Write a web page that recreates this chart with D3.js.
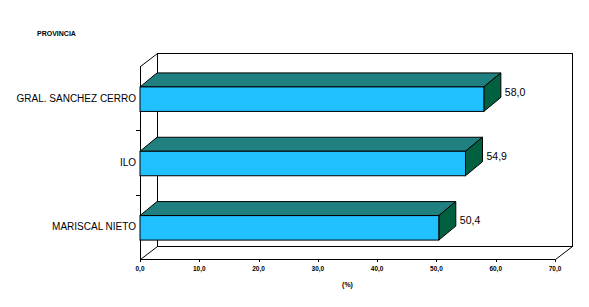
<!DOCTYPE html>
<html>
<head>
<meta charset="utf-8">
<script src="https://cdn.jsdelivr.net/npm/d3@7"></script>
<style>
  body { margin: 0; background: #fff; }
  text { font-family: Arial, "Liberation Sans", sans-serif; }
</style>
</head>
<body>
<div id="chart"></div>
<script>
// data
var categories = ['GRAL. SANCHEZ CERRO', 'ILO', 'MARISCAL NIETO'];
var values = [58.0, 54.9, 50.4];
var xTicks = [0, 10, 20, 30, 40, 50, 60, 70];

var W = 589, H = 307;
// depth offset of the 3d box
var ddx = 17, ddy = -13;

var svg = d3.select('#chart').append('svg')
  .attr('width', W).attr('height', H);

var x = d3.scaleLinear().domain([0, 70]).range([140, 555]);
var y = d3.scaleBand().domain(categories).range([66, 259]).padding(0);

var x0 = x(0), x1 = x(70), yTop = 66, yBot = 259;
var fmt = function (v) { return d3.format('.1f')(v).replace('.', ','); };

// back walls
var g = svg.append('g').attr('fill', 'none').attr('stroke', '#000').attr('stroke-width', 1);
g.append('rect')
  .attr('x', x0 + ddx + 0.5).attr('y', yTop + ddy + 0.5)
  .attr('width', x1 - x0).attr('height', yBot - yTop);
g.append('line')
  .attr('x1', x0 + 0.5).attr('y1', yTop + 0.5)
  .attr('x2', x0 + ddx + 0.5).attr('y2', yTop + ddy + 0.5);
g.append('line')
  .attr('x1', x0 + 0.5).attr('y1', yBot + 0.5)
  .attr('x2', x0 + ddx + 0.5).attr('y2', yBot + ddy + 0.5);
g.append('line')
  .attr('x1', x1 + 0.5).attr('y1', yBot + 0.5)
  .attr('x2', x1 + ddx + 0.5).attr('y2', yBot + ddy + 0.5);

// front axes
g.append('line')
  .attr('x1', x0 + 0.5).attr('y1', yTop).attr('x2', x0 + 0.5).attr('y2', yBot + 0.5);
g.append('line')
  .attr('x1', x0).attr('y1', yBot + 0.5).attr('x2', x1 + 0.5).attr('y2', yBot + 0.5);

// category ticks (boundaries)
var bounds = categories.slice(1).map(function (c) { return y(c); });
g.selectAll('line.ct').data(bounds).enter().append('line')
  .attr('x1', x0 - 4).attr('x2', x0)
  .attr('y1', function (d) { return Math.round(d) + 0.5; })
  .attr('y2', function (d) { return Math.round(d) + 0.5; });

// x ticks
g.selectAll('line.xt').data(xTicks).enter().append('line')
  .attr('x1', function (d) { return Math.round(x(d)) + 0.5; })
  .attr('x2', function (d) { return Math.round(x(d)) + 0.5; })
  .attr('y1', yBot).attr('y2', yBot + 3);

svg.selectAll('text.xt').data(xTicks).enter().append('text')
  .attr('x', function (d) { return x(d); })
  .attr('y', yBot + 12)
  .attr('text-anchor', 'middle')
  .attr('font-size', '6.5px').attr('font-weight', 'bold')
  .text(fmt);

// bars
var bh = 24.5;
var bars = svg.selectAll('g.bar').data(categories).enter().append('g');
bars.each(function (c, i) {
  var b = d3.select(this);
  var yc = y(c) + y.bandwidth() / 2 + 1;
  var t = yc - bh / 2, bt = yc + bh / 2;
  var xr = x(values[i]);
  // top face
  b.append('path')
    .attr('d', 'M' + x0 + ',' + t + 'L' + (x0 + ddx) + ',' + (t + ddy - 1) +
      'L' + (xr + ddx) + ',' + (t + ddy - 1) + 'L' + xr + ',' + t + 'Z')
    .attr('fill', '#1F807F').attr('stroke', '#000');
  // side face
  b.append('path')
    .attr('d', 'M' + xr + ',' + t + 'L' + (xr + ddx) + ',' + (t + ddy - 1) +
      'L' + (xr + ddx) + ',' + (bt + ddy - 1) + 'L' + xr + ',' + bt + 'Z')
    .attr('fill', '#006040').attr('stroke', '#000');
  // front face
  b.append('rect')
    .attr('x', x0).attr('y', t)
    .attr('width', xr - x0).attr('height', bh)
    .attr('fill', '#21C0FF').attr('stroke', '#000');
  // value label
  b.append('text')
    .attr('x', xr + ddx + 4).attr('y', t + 6)
    .attr('font-size', '10.5px').attr('dominant-baseline', 'middle')
    .text(fmt(values[i]));
  // category label
  b.append('text')
    .attr('x', x0 - 4).attr('y', yc)
    .attr('text-anchor', 'end').attr('dominant-baseline', 'middle')
    .attr('font-size', '10px')
    .text(c);
});

// titles
svg.append('text')
  .attr('x', 37).attr('y', 36)
  .attr('font-size', '7px').attr('font-weight', 'bold')
  .text('PROVINCIA');
svg.append('text')
  .attr('x', (x0 + x1) / 2).attr('y', 287)
  .attr('text-anchor', 'middle')
  .attr('font-size', '7px').attr('font-weight', 'bold')
  .text('(%)');
</script>
</body>
</html>
